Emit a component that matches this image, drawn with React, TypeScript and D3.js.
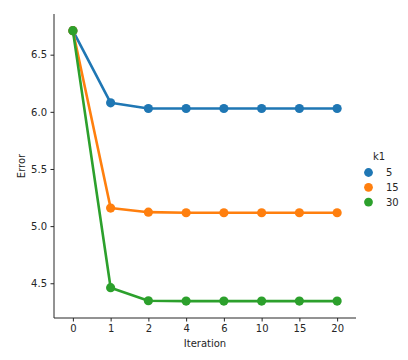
import React, { useEffect, useRef } from 'react';
import * as d3 from 'd3';

const iterations = ['0', '1', '2', '4', '6', '10', '15', '20'];
const k1Levels = ['5', '15', '30'];
const errorK5 = [6.71, 6.079, 6.029, 6.029, 6.029, 6.029, 6.029, 6.029];
const errorK15 = [6.71, 5.158, 5.122, 5.117, 5.117, 5.117, 5.117, 5.117];
const errorK30 = [6.71, 4.461, 4.347, 4.344, 4.344, 4.344, 4.344, 4.344];
const yTicks = [4.5, 5.0, 5.5, 6.0, 6.5];
const palette = ['#1f77b4', '#ff7f0e', '#2ca02c'];

export default function App() {
    const ref = useRef<SVGSVGElement>(null);

    useEffect(() => {
        const width = 408, height = 360;
        const marginLeft = 54, marginRight = 52, marginTop = 14, marginBottom = 42;
        const textColor = '#262626';
        const font = '"DejaVu Sans", sans-serif';

        const svg = d3.select(ref.current);
        svg.selectAll('*').remove();

        const series = [errorK5, errorK15, errorK30];

        const x = d3.scalePoint<string>()
            .domain(iterations)
            .range([marginLeft, width - marginRight])
            .padding(0.5);
        const y = d3.scaleLinear()
            .domain([4.196, 6.856])
            .range([height - marginBottom, marginTop]);

        // axes
        const xAxis = d3.axisBottom(x).tickSize(3.5).tickPadding(3.5).tickSizeOuter(0);
        const yAxis = d3.axisLeft(y).tickValues(yTicks).tickFormat(d3.format('.1f')).tickSize(3.5).tickPadding(3.5).tickSizeOuter(0);

        const styleAxis = (g: any) => {
            g.select('.domain').attr('stroke', textColor).attr('stroke-width', 1);
            g.selectAll('.tick line').attr('stroke', textColor).attr('stroke-width', 1);
            g.selectAll('.tick text').attr('fill', textColor).attr('font-size', 10).attr('font-family', font);
        };

        svg.append('g')
            .attr('transform', `translate(0,${height - marginBottom})`)
            .call(xAxis)
            .call(styleAxis)
            .call((g: any) => g.select('.domain').attr('d', `M${marginLeft},0H${width - marginRight}`));

        svg.append('g')
            .attr('transform', `translate(${marginLeft},0)`)
            .call(yAxis)
            .call(styleAxis)
            .call((g: any) => g.select('.domain').attr('d', `M0,${marginTop}V${height - marginBottom}`));

        // axis labels
        svg.append('text')
            .attr('x', (marginLeft + width - marginRight) / 2)
            .attr('y', height - 13)
            .attr('text-anchor', 'middle')
            .attr('fill', textColor)
            .attr('font-size', 10)
            .attr('font-family', font)
            .text('Iteration');

        svg.append('text')
            .attr('transform', `translate(25,${(marginTop + height - marginBottom) / 2}) rotate(-90)`)
            .attr('text-anchor', 'middle')
            .attr('fill', textColor)
            .attr('font-size', 10)
            .attr('font-family', font)
            .text('Error');

        // lines + points
        const line = d3.line<number>()
            .x((_, i) => x(iterations[i]) as number)
            .y(d => y(d));

        series.forEach((values, s) => {
            const g = svg.append('g');
            g.append('path')
                .datum(values)
                .attr('d', line)
                .attr('fill', 'none')
                .attr('stroke', palette[s])
                .attr('stroke-width', 2.6)
                .attr('stroke-linejoin', 'round')
                .attr('stroke-linecap', 'round');
            g.selectAll('circle')
                .data(values)
                .join('circle')
                .attr('cx', (_, i) => x(iterations[i]) as number)
                .attr('cy', d => y(d))
                .attr('r', 4.6)
                .attr('fill', palette[s]);
        });

        // legend
        const legend = svg.append('g').attr('font-family', font).attr('font-size', 10).attr('fill', textColor);
        legend.append('text')
            .attr('x', 379)
            .attr('y', 160)
            .attr('text-anchor', 'middle')
            .text('k1');
        k1Levels.forEach((lvl, i) => {
            const cy = 172.5 + i * 14.8;
            legend.append('circle')
                .attr('cx', 368.5)
                .attr('cy', cy)
                .attr('r', 4.4)
                .attr('fill', palette[i]);
            legend.append('text')
                .attr('x', 386)
                .attr('y', cy + 3.6)
                .text(lvl);
        });
    }, []);

    return (
        <svg ref={ref} width={408} height={360}
             style={{ position: 'absolute', left: 0, top: 0, background: '#fff' }} />
    );
}
